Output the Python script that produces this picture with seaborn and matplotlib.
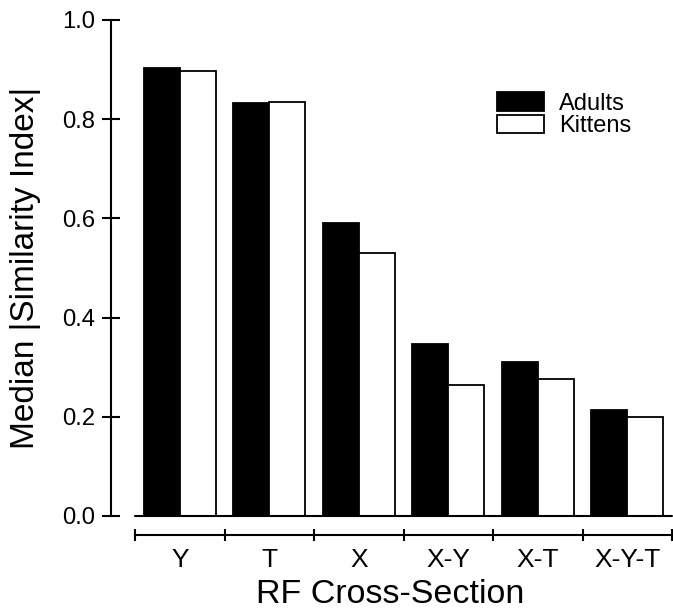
import numpy as np
import pandas as pd
import matplotlib
matplotlib.use('Agg')
import matplotlib.pyplot as plt
from matplotlib.patches import Patch
import seaborn as sns

# median |similarity index| per RF cross-section
sections = ['Y', 'T', 'X', 'X-Y', 'X-T', 'X-Y-T']
adults = [0.904, 0.833, 0.591, 0.346, 0.310, 0.214]
kittens = [0.897, 0.835, 0.530, 0.264, 0.277, 0.200]
groups = ['Adults', 'Kittens']

df = pd.DataFrame({
    'section': sections * 2,
    'value': adults + kittens,
    'group': ['Adults'] * len(sections) + ['Kittens'] * len(sections),
})

sns.set_style('ticks')
plt.rcParams['font.family'] = ['Liberation Sans', 'DejaVu Sans']
for k in ['text.color', 'axes.labelcolor', 'xtick.color', 'ytick.color', 'axes.edgecolor']:
    plt.rcParams[k] = 'black'

W, H = 673, 610
fig = plt.figure(figsize=(W / 100, H / 100), dpi=100)
ax = fig.add_axes([135 / W, 1 - 516 / H, (672 - 135) / W, (516 - 20) / H])

colors = {'Adults': 'black', 'Kittens': 'white'}
sns.barplot(data=df, x='section', y='value', hue='group', order=sections,
            hue_order=groups, palette=colors, edgecolor='black', linewidth=1.3,
            saturation=1, width=0.8, legend=False, ax=ax)

ax.set_xlim(-0.5, len(sections) - 0.5)
ax.set_ylim(0, 1.0)
ax.axhline(0, color='black', lw=1.5, clip_on=False, zorder=3)

for s in ['top', 'right']:
    ax.spines[s].set_visible(False)
ax.spines['left'].set_position(('outward', 17))
ax.spines['left'].set_bounds(0, 1.0)
ax.spines['left'].set_linewidth(1.5)
ax.spines['bottom'].set_position(('outward', 14))
ax.spines['bottom'].set_linewidth(1.5)

ax.set_yticks(np.arange(0, 1.01, 0.2))
ax.set_yticklabels(['{:.1f}'.format(v) for v in np.arange(0, 1.01, 0.2)])
ax.tick_params(axis='y', direction='inout', length=13, width=1.5, pad=5,
               labelsize=17.2)

ax.set_xticks(np.arange(len(sections)))
ax.set_xticklabels(sections)
ax.set_xticks(np.arange(-0.5, len(sections)), minor=True)
ax.tick_params(axis='x', which='major', length=0, pad=9, labelsize=19)
ax.tick_params(axis='x', which='minor', direction='inout', length=9, width=1.5)

ax.set_ylabel('Median |Similarity Index|', fontsize=24)
ax.yaxis.set_label_coords(-0.175, 0.5)
ax.set_xlabel('RF Cross-Section', fontsize=24.5, va='top')
ax.xaxis.set_label_coords(0.475, -0.127)

handles = [Patch(facecolor=colors[g], edgecolor='black', linewidth=1.3) for g in groups]
ax.legend(handles, groups, loc='upper left', bbox_to_anchor=(497 / W, 1 - 92 / H),
          bbox_transform=fig.transFigure, frameon=False, fontsize=17,
          handlelength=2.0, handleheight=0.85, handletextpad=0.62,
          labelspacing=0.0, borderpad=0, borderaxespad=0)

fig.savefig('out.png', dpi=100)
